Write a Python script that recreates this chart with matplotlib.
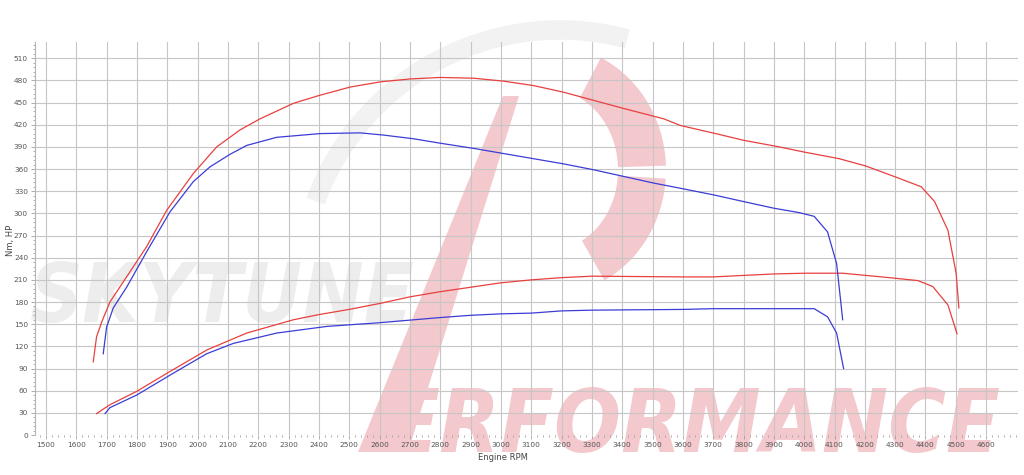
import numpy as np
import matplotlib
matplotlib.use("Agg")
import matplotlib.pyplot as plt
from matplotlib.patches import Polygon, Arc
from matplotlib.ticker import MultipleLocator

# ---------------- data ----------------
rpm_torque_tuned = [1656, 1667, 1684, 1711, 1766, 1832, 1898, 1986, 2063, 2140, 2206, 2316,
                    2404, 2503, 2602, 2701, 2800, 2910, 3009, 3108, 3207, 3306, 3405, 3537,
                    3592, 3708, 3800, 3918, 4000, 4116, 4204, 4303, 4386, 4430, 4474, 4501, 4510]
torque_tuned = [99, 133, 153, 180, 214, 255, 304, 354, 390, 413, 428, 449,
                460, 471, 478, 482, 484, 483, 479, 473, 464, 453, 442, 428,
                419, 408, 399, 390, 383, 374, 364, 349, 336, 316, 277, 219, 172]

rpm_torque_stock = [1689, 1700, 1722, 1766, 1832, 1909, 1986, 2041, 2107, 2162, 2261, 2404,
                    2536, 2613, 2712, 2800, 2910, 3009, 3108, 3207, 3306, 3405, 3504, 3592,
                    3702, 3800, 3900, 3984, 4033, 4077, 4107, 4127]
torque_stock = [110, 146, 172, 200, 248, 302, 343, 363, 380, 392, 403, 408,
                409, 406, 401, 395, 388, 381, 374, 367, 359, 350, 341, 334,
                325, 316, 307, 301, 296, 275, 232, 156]

rpm_power_tuned = [1667, 1711, 1799, 1909, 2030, 2162, 2316, 2400, 2500, 2600, 2700, 2800,
                   2900, 3000, 3100, 3200, 3300, 3600, 3700, 3800, 3900, 4000, 4127, 4281,
                   4375, 4424, 4474, 4504]
power_tuned = [29, 41, 59, 86, 115, 138, 156, 163, 170, 178, 187, 194,
               200, 206, 210, 213, 215, 214, 214, 216, 218, 219, 219, 213,
               209, 201, 176, 137]

rpm_power_stock = [1695, 1711, 1799, 1909, 2030, 2118, 2261, 2426, 2600, 2800, 2900, 3000,
                   3100, 3200, 3300, 3600, 3700, 4033, 4077, 4107, 4130]
power_stock = [29, 37, 54, 81, 110, 124, 138, 147, 152, 159, 162, 164,
               165, 168, 169, 170, 171, 171, 160, 138, 90]

x_ticks = list(range(1500, 4601, 100))
y_ticks = list(range(0, 511, 30))

# ---------------- figure ----------------
W, H = 1024, 475
fig = plt.figure(figsize=(W / 100, H / 100), dpi=100)

# background watermark layer (pixel coordinates, y measured from top)
bg = fig.add_axes([0, 0, 1, 1], zorder=0)
bg.set_xlim(0, W)
bg.set_ylim(H, 0)
bg.axis("off")

pink = "#f3c9cd"

# faint grey swoosh
bg.add_patch(Arc((560, 290), 520, 520, angle=0, theta1=200, theta2=285,
                 color="#f2f2f2", lw=14, zorder=0))

renderer = fig.canvas.get_renderer()


def fitted_text(x, y, s, width, color, z):
    t = bg.text(x, y, s, fontsize=60, fontweight="bold", fontstyle="italic",
                fontstretch="condensed", family="DejaVu Sans", color=color,
                ha="left", va="baseline", zorder=z)
    w = t.get_window_extent(renderer).width
    t.set_fontsize(60 * width / w)
    return t


fitted_text(30, 322, "SKYTUNE", 385, "#ededed", 1)

# slanted stroke of the "P"
bg.add_patch(Polygon([(503, 96), (519, 96), (408, 452), (358, 452)],
                     closed=True, color=pink, lw=0, zorder=2))


# bowl of the "P"
def ring(t0, t1, cx=550, cy=170, rxo=116, ryo=125, rxi=68, ryi=80):
    t = np.radians(np.linspace(t0, t1, 60))
    outer = np.column_stack([cx + rxo * np.cos(t), cy - ryo * np.sin(t)])
    inner = np.column_stack([cx + rxi * np.cos(t[::-1]), cy - ryi * np.sin(t[::-1])])
    return np.vstack([outer, inner])


bg.add_patch(Polygon(ring(64, 2), closed=True, color=pink, lw=0, zorder=2))
bg.add_patch(Polygon(ring(-4, -62), closed=True, color=pink, lw=0, zorder=2))

fitted_text(385, 452, "ERFORMANCE", 615, pink, 2)

# main chart
ax = fig.add_axes([35 / W, (H - 435) / H, (1018 - 35) / W, (435 - 42) / H], zorder=1)
ax.set_facecolor("none")

ax.plot(rpm_torque_tuned, torque_tuned, color="#e8403f", lw=0.9, zorder=3)
ax.plot(rpm_power_tuned, power_tuned, color="#e8403f", lw=0.9, zorder=3)
ax.plot(rpm_torque_stock, torque_stock, color="#3c3cd6", lw=0.9, zorder=3)
ax.plot(rpm_power_stock, power_stock, color="#3c3cd6", lw=0.9, zorder=3)

ax.set_xlim(1464, 4705)
ax.set_ylim(0, 532)
ax.set_xticks(x_ticks)
ax.set_yticks(y_ticks)
ax.xaxis.set_minor_locator(MultipleLocator(20))
ax.yaxis.set_minor_locator(MultipleLocator(6))
ax.grid(True, which="major", color="#c6c6c6", lw=0.8)
ax.set_axisbelow(True)

for s in ["top", "right", "bottom"]:
    ax.spines[s].set_visible(False)
ax.spines["left"].set_color("#b5b5b5")
ax.spines["left"].set_linewidth(0.8)

ax.tick_params(axis="both", which="major", labelsize=5.3, labelcolor="#555555",
               color="#a0a0a0", length=3, width=0.6, pad=2)
ax.tick_params(axis="both", which="minor", color="#a0a0a0", length=1.5, width=0.6)

ax.set_xlabel("Engine RPM", fontsize=6, color="#444444")
ax.xaxis.set_label_coords((503 - 35) / 983, -18 / 393)
ax.set_ylabel("Nm, HP", fontsize=6, color="#444444")
ax.yaxis.set_label_coords(-20 / 983, (435 - 240) / 393)

fig.savefig("out.png", dpi=100)
